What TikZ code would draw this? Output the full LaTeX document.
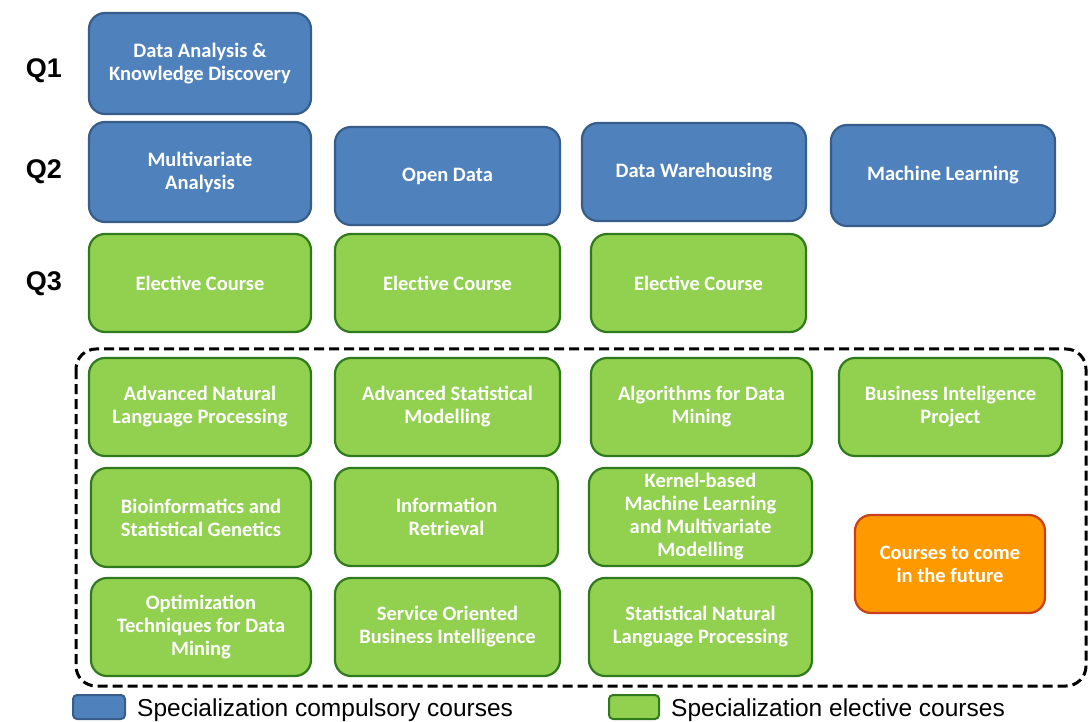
\documentclass[tikz,border=0pt]{standalone}
\usepackage{fontspec}
\setmainfont{Carlito}
\newfontfamily\arialfont{Liberation Sans}
\definecolor{cblue}{HTML}{4F81BD}
\definecolor{cblueb}{HTML}{385D8A}
\definecolor{cgreen}{HTML}{92D050}
\definecolor{cgreenb}{HTML}{2F7A1C}
\definecolor{corange}{HTML}{FF9900}
\definecolor{corangeb}{HTML}{C8401A}
\tikzset{
  course/.style={rounded corners=16pt, line width=2.2pt, align=center, text=white,
    font=\fontsize{20.5}{23}\selectfont\bfseries, inner sep=0pt},
  comp/.style={course, fill=cblue, draw=cblueb},
  elec/.style={course, fill=cgreen, draw=cgreenb},
  fut/.style={course, fill=corange, draw=corangeb},
  qlabel/.style={font=\arialfont\bfseries\fontsize{27}{30}\selectfont, text=black},
  legtext/.style={font=\arialfont\fontsize{24.5}{28}\selectfont, anchor=west, inner sep=0pt, text=black},
}
\newcommand{\cbox}[7]{% style, name, x1, y1, x2, y2, text
  \node[#1, minimum width={(#5-#3)*1pt}, minimum height={(#6-#4)*1pt}] (#2) at ({(#3+#5)/2},{(#4+#6)/2}) {#7};}
\begin{document}
\begin{tikzpicture}[x=1pt,y=-1pt]
\useasboundingbox (0,0) rectangle (1088,722);
% Q labels
\node[qlabel] (q1) at (44,71) {Q1};
\node[qlabel] (q2) at (44,172) {Q2};
\node[qlabel] (q3) at (44,284) {Q3};
% dashed container
\draw[line width=3pt, dash pattern=on 10pt off 5pt, rounded corners=20pt] (76,349) rectangle (1086,686);
\coordinate (container) at (581,517);
% Q1
\cbox{comp}{dakd}{89}{13}{311}{114}{Data Analysis \&\\Knowledge Discovery}
% Q2
\cbox{comp}{mva}{89}{122}{311}{222}{Multivariate\\Analysis}
\cbox{comp}{od}{335}{127}{560}{225}{Open Data}
\cbox{comp}{dw}{582}{123}{806}{221}{Data Warehousing}
\cbox{comp}{ml}{831}{125}{1055}{226}{Machine Learning}
% Q3
\cbox{elec}{e1}{89}{234}{311}{332}{Elective Course}
\cbox{elec}{e2}{335}{234}{560}{332}{Elective Course}
\cbox{elec}{e3}{591}{234}{806}{332}{Elective Course}
% electives
\cbox{elec}{anlp}{89}{358}{311}{456}{Advanced Natural\\Language Processing}
\cbox{elec}{asm}{335}{358}{560}{456}{Advanced Statistical\\Modelling}
\cbox{elec}{adm}{591}{358}{812}{456}{Algorithms for Data\\Mining}
\cbox{elec}{bip}{839}{358}{1062}{456}{Business Inteligence\\Project}
\cbox{elec}{bsg}{91}{468}{311}{567}{Bioinformatics and\\Statistical Genetics}
\cbox{elec}{ir}{335}{468}{558}{566}{Information\\Retrieval}
\cbox{elec}{kml}{589}{468}{812}{566}{Kernel-based\\Machine Learning\\and Multivariate\\Modelling}
\cbox{fut}{future}{855}{515}{1045}{613}{Courses to come\\in the future}
\cbox{elec}{otdm}{91}{578}{311}{676}{Optimization\\Techniques for Data\\Mining}
\cbox{elec}{sobi}{335}{578}{560}{676}{Service Oriented\\Business Intelligence}
\cbox{elec}{snlp}{589}{578}{812}{676}{Statistical Natural\\Language Processing}
% legend
\node[draw=cblueb, fill=cblue, line width=2pt, rounded corners=4pt, minimum width=52pt, minimum height=24pt, inner sep=0pt] (legc) at (99,707) {};
\node[legtext] (legct) at (137,710) {Specialization compulsory courses};
\node[draw=cgreenb, fill=cgreen, line width=2pt, rounded corners=4pt, minimum width=50pt, minimum height=24pt, inner sep=0pt] (lege) at (634,707) {};
\node[legtext] (leget) at (671,710) {Specialization elective courses};
\end{tikzpicture}
\end{document}
